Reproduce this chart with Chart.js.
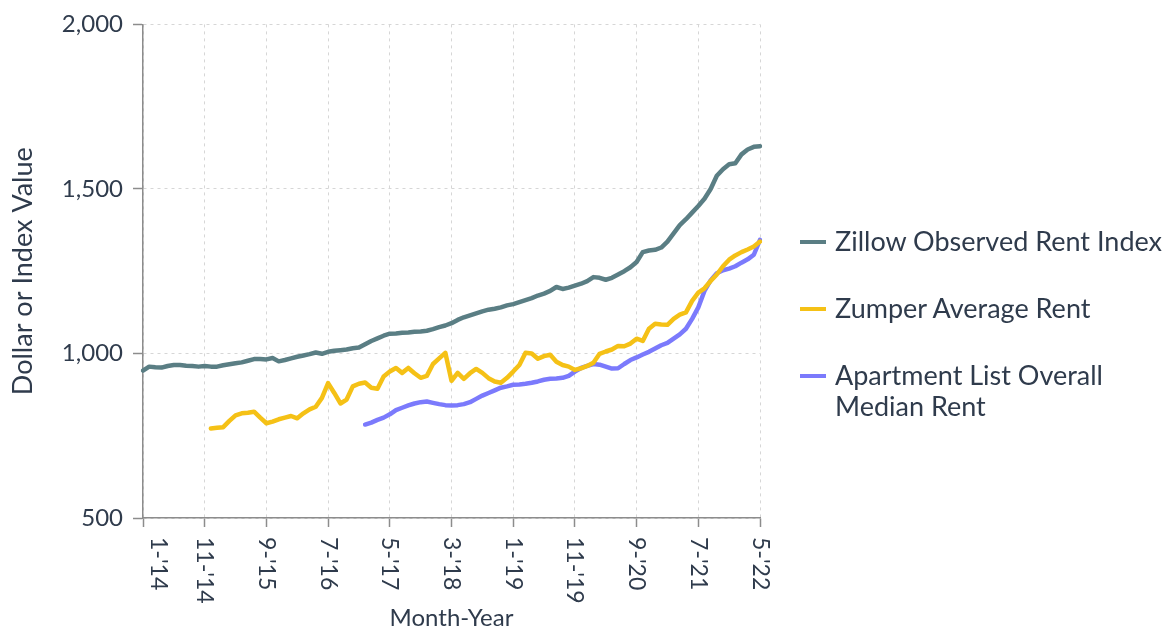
<!DOCTYPE html>
<html>
<head>
<meta charset="utf-8">
<script src="https://cdn.jsdelivr.net/npm/chart.js@4.4.1/dist/chart.umd.min.js"></script>
<style>
  html, body { margin: 0; padding: 0; background: #fff; }
  #wrap { position: relative; width: 1169px; height: 633px; }
  #legend { position: absolute; left: 800px; top: 225px; font-family: Lato, sans-serif; font-size: 27px; color: #2f3b4c; }
  .item { display: flex; align-items: flex-start; margin-bottom: 36px; }
  .swatch { width: 26px; height: 4px; margin-top: 15px; margin-right: 9px; flex: none; }
  .text { line-height: 31px; width: 335px; }
</style>
</head>
<body>
<div id="wrap">
  <canvas id="chart" width="1169" height="633"></canvas>
  <div id="legend"></div>
</div>
<script>
// months Jan 2014 .. May 2022
const months = [];
for (let i = 0; i <= 100; i++) {
  const m = (i % 12) + 1;
  const yy = 14 + Math.floor(i / 12);
  months.push(m + "-'" + yy);
}

// Zillow Observed Rent Index, 1-'14 .. 5-'22
const zillow = [
  948, 960, 958, 957, 962, 965, 965, 963, 962, 960,
  962, 960, 960, 964, 967, 970, 973, 978, 983, 983,
  982, 986, 976, 980, 985, 990, 994, 998, 1003, 999,
  1005, 1008, 1010, 1012, 1016, 1018, 1028, 1038, 1046, 1054,
  1060, 1061, 1063, 1064, 1066, 1067, 1069, 1074, 1080, 1085,
  1092, 1102, 1110, 1116, 1122, 1128, 1133, 1136, 1140, 1146,
  1150, 1156, 1162, 1168, 1176, 1182, 1190, 1202, 1196, 1200,
  1206, 1212, 1220, 1232, 1230, 1224, 1230, 1240, 1250, 1262,
  1278, 1308, 1313, 1315, 1322, 1340, 1365, 1390, 1408, 1428,
  1448, 1470, 1500, 1540, 1560, 1575, 1578, 1605, 1620, 1628,
  1630
];

// Zumper Average Rent, starts 12-'14
const zumperStart = 11;
const zumper = [
  772, 774, 776, 795, 812, 818, 820, 823, 805,
  788, 793, 800, 805, 810, 803, 818, 830, 838, 865,
  910, 880, 848, 860, 900, 908, 912, 896, 893, 930,
  945, 956, 941, 956, 940, 926, 932, 968, 985, 1002,
  917, 941, 923, 940, 953, 941, 925, 915, 911, 926,
  945, 965, 1002, 1000, 984, 992, 996, 975, 965, 960,
  950, 955, 962, 972, 999, 1006, 1012, 1023, 1022, 1030,
  1045, 1038, 1075, 1090, 1088, 1087, 1105, 1118, 1125, 1160,
  1185, 1198, 1220, 1240, 1265, 1285, 1298, 1308, 1316, 1325,
  1340
];

// Apartment List Overall Median Rent, starts 1-'17
const aptStart = 36;
const aptList = [
  784, 790, 798, 805,
  815, 828, 835, 842, 848, 852, 854, 850, 846, 843,
  842, 843, 846, 852, 862, 872, 880, 888, 896, 900,
  905, 906, 908, 911, 915, 920, 923, 924, 926, 932,
  945, 956, 962, 968, 966, 960, 954, 955, 968, 980,
  988, 997, 1005, 1015, 1025, 1032, 1045, 1058, 1075, 1105,
  1140, 1190, 1222, 1244, 1253, 1258, 1265, 1276, 1286, 1300,
  1345
];

const seriesNames = ['Zillow Observed Rent Index', 'Zumper Average Rent', 'Apartment List Overall Median Rent'];
const seriesColors = ['#5a7e84', '#f5c116', '#7b7afc'];

const textColor = '#2f3b4c';
const gridColor = '#d6d6d6';
const axisColor = '#8c8c8c';

function pad(start, values) {
  return new Array(start).fill(null).concat(values);
}

// draws x tick labels rotated clockwise (reading top to bottom)
const rotatedTicks = {
  id: 'rotatedTicks',
  afterDraw(chart) {
    const scale = chart.scales.x;
    const ctx = chart.ctx;
    ctx.save();
    ctx.font = '23px Lato';
    ctx.fillStyle = textColor;
    ctx.textAlign = 'left';
    ctx.textBaseline = 'middle';
    scale.ticks.forEach((t, i) => {
      if (t.label == null) return;
      let x = scale.getPixelForTick(i);
      if (i === 0) x += 15;
      ctx.save();
      ctx.translate(x, scale.top + 19);
      ctx.rotate(Math.PI / 2);
      ctx.fillText(t.label, 0, 0);
      ctx.restore();
    });
    ctx.restore();
  }
};

const chart = new Chart(document.getElementById('chart'), {
  type: 'line',
  data: {
    labels: months,
    datasets: [
      { label: seriesNames[0], data: zillow, borderColor: seriesColors[0], backgroundColor: seriesColors[0] },
      { label: seriesNames[1], data: pad(zumperStart, zumper), borderColor: seriesColors[1], backgroundColor: seriesColors[1] },
      { label: seriesNames[2], data: pad(aptStart, aptList), borderColor: seriesColors[2], backgroundColor: seriesColors[2] }
    ]
  },
  options: {
    responsive: false,
    animation: false,
    layout: { padding: { top: 20, right: 409, left: 1, bottom: 0 } },
    elements: {
      point: { radius: 0 },
      line: { borderWidth: 4.5, tension: 0, borderJoinStyle: 'round', borderCapStyle: 'round' }
    },
    plugins: {
      legend: { display: false },
      tooltip: { enabled: false }
    },
    scales: {
      x: {
        afterFit: scale => { scale.height = 115; },
        grid: { color: gridColor, tickColor: axisColor, tickLength: 9, tickBorderDash: [], tickWidth: 1.5 },
        border: { color: axisColor, width: 1.5, dash: [3, 4] },
        ticks: {
          autoSkip: false,
          maxRotation: 90,
          minRotation: 90,
          color: 'rgba(0,0,0,0)',
          font: { family: 'Lato', size: 23 },
          callback: (v, i) => (i % 10 === 0 ? months[i] : null)
        },
        title: { display: true, text: 'Month-Year', color: textColor, font: { family: 'Lato', size: 24 }, padding: { top: 0, bottom: 0 } }
      },
      y: {
        min: 500,
        max: 2000,
        afterFit: scale => { scale.width = 142; },
        grid: { color: gridColor, tickColor: axisColor, tickLength: 10, tickBorderDash: [], tickWidth: 1.5 },
        border: { color: axisColor, width: 1.5, dash: [3, 4] },
        ticks: {
          stepSize: 500,
          color: textColor,
          padding: 10,
          font: { family: 'Lato', size: 24 },
          callback: v => v.toLocaleString('en-US')
        },
        title: { display: true, text: 'Dollar or Index Value', color: textColor, font: { family: 'Lato', size: 27 }, padding: { top: 6, bottom: 0 } }
      }
    }
  },
  plugins: [rotatedTicks]
});

// HTML legend from the chart's datasets
const legend = document.getElementById('legend');
chart.data.datasets.forEach(ds => {
  const item = document.createElement('div');
  item.className = 'item';
  const sw = document.createElement('div');
  sw.className = 'swatch';
  sw.style.background = ds.borderColor;
  const tx = document.createElement('div');
  tx.className = 'text';
  tx.textContent = ds.label;
  item.appendChild(sw);
  item.appendChild(tx);
  legend.appendChild(item);
});
</script>
</body>
</html>
